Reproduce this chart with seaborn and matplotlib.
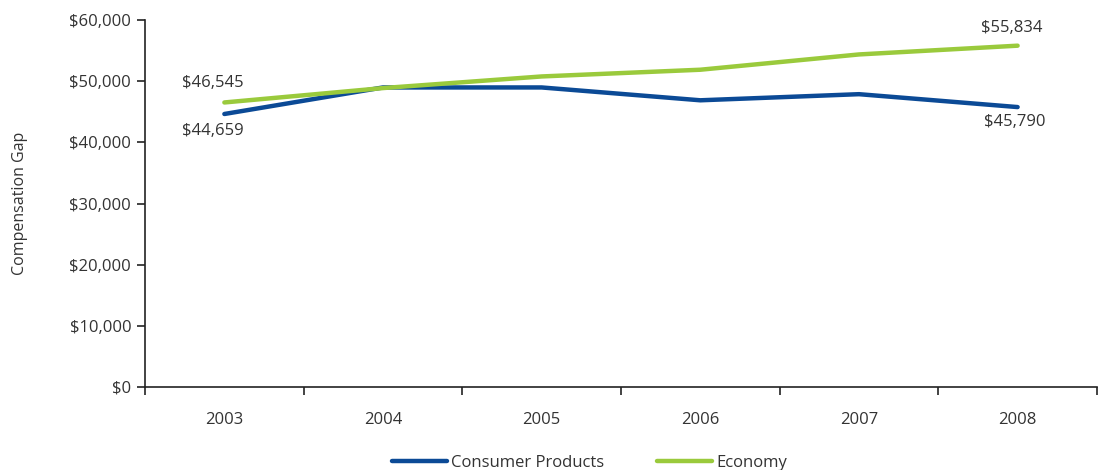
import matplotlib
matplotlib.use("Agg")
import matplotlib.pyplot as plt
import matplotlib.ticker as mticker
import seaborn as sns
import pandas as pd

years = ["2003", "2004", "2005", "2006", "2007", "2008"]
consumer_products = [44659, 49000, 49000, 46900, 47900, 45790]
economy = [46545, 48900, 50800, 51900, 54400, 55834]
series_names = ["Consumer Products", "Economy"]
colors = {"Consumer Products": "#0B4A96", "Economy": "#9ACA3C"}

sns.set_style("white")
plt.rcParams["font.family"] = ["Open Sans", "DejaVu Sans"]

df = pd.DataFrame({
    "pos": list(range(len(years))) * 2,
    "value": consumer_products + economy,
    "series": [series_names[0]] * len(years) + [series_names[1]] * len(years),
})

fig = plt.figure(figsize=(11.03, 4.70), dpi=100)
ax = fig.add_axes([0.1315, 0.1766, 0.863, 0.7804])

sns.lineplot(data=df, x="pos", y="value", hue="series", palette=colors,
             linewidth=3.2, ax=ax, legend=True, solid_capstyle="round")

ax.set_ylim(0, 60000)
ax.set_xlim(-0.5, len(years) - 0.5)
ax.yaxis.set_major_locator(mticker.MultipleLocator(10000))
ax.yaxis.set_major_formatter(mticker.FuncFormatter(lambda v, p: f"${v:,.0f}"))

# category boundaries carry the tick marks, labels sit at category centres
ax.set_xticks([i - 0.5 for i in range(len(years) + 1)])
ax.set_xticklabels([])
ax.set_xticks(range(len(years)), minor=True)
ax.set_xticklabels(years, minor=True)
ax.tick_params(axis="x", which="major", bottom=True, length=6, width=1.2,
               color="#222222", direction="out")
ax.tick_params(axis="x", which="minor", bottom=True, length=0, pad=18,
               labelsize=12, labelcolor="#333333")
ax.tick_params(axis="y", left=True, length=6, width=1.2, color="#222222",
               direction="out", labelsize=12, labelcolor="#333333", pad=4)

for side in ["top", "right"]:
    ax.spines[side].set_visible(False)
for side in ["left", "bottom"]:
    ax.spines[side].set_color("#222222")
    ax.spines[side].set_linewidth(1.2)

ax.set_xlabel("")
ax.set_ylabel("Compensation Gap", fontsize=11.5, color="#333333", labelpad=30)

def label(xpos, val, dx, dy):
    ax.annotate(f"${val:,.0f}", xy=(xpos, val), xytext=(dx, dy),
                textcoords="offset points", ha="center", va="center",
                fontsize=12, color="#333333")

last = len(years) - 1
label(0, economy[0], -8, 14)
label(0, consumer_products[0], -8, -12)
label(last, economy[last], -4, 13)
label(last, consumer_products[last], -2, -11)

leg = ax.legend(loc="lower center", bbox_to_anchor=(0.467, -0.27), ncol=2,
                frameon=False, fontsize=12, handlelength=3.3, handletextpad=0.25,
                columnspacing=3.2)
for h in leg.legend_handles:
    h.set_linewidth(3.2)
for t in leg.get_texts():
    t.set_color("#333333")

fig.savefig("out.png", dpi=100)
